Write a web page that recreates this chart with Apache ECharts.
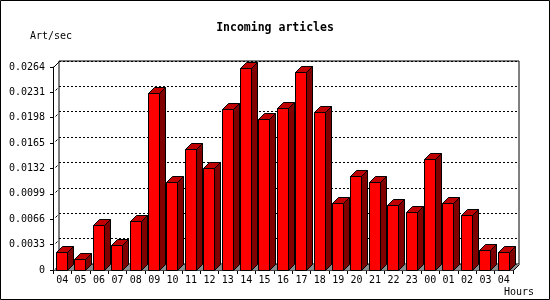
<!DOCTYPE html>
<html>
<head>
<meta charset="utf-8">
<script src="https://cdn.jsdelivr.net/npm/echarts@6/dist/echarts.min.js"></script>
<style>
html,body{margin:0;padding:0;background:#fff;}
#c{width:550px;height:300px;}
</style>
</head>
<body>
<div id="c"></div>
<script>
const hours = ['04','05','06','07','08','09','10','11','12','13','14','15','16','17','18','19','20','21','22','23','00','01','02','03','04'];
const rates = [0.0023,0.0014,0.0058,0.0033,0.0064,0.0230,0.0114,0.0157,0.0133,0.0209,0.0263,0.0197,0.0211,0.0258,0.0206,0.0087,0.0122,0.0114,0.0084,0.0075,0.0145,0.0087,0.0072,0.0026,0.0023];
const yTicks = ['0','0.0033','0.0066','0.0099','0.0132','0.0165','0.0198','0.0231','0.0264'];
const yMax = 0.0264, yStep = 0.0033;

const FONT = 'DejaVu Sans Mono';
const D = 6;      // depth offset
const BW = 11;    // bar front width
const OFF = 3;    // bar offset inside band

const chart = echarts.init(document.getElementById('c'), null, {renderer:'canvas'});

function renderFrame(params, api){
  const band = api.size([1,0])[0];
  const p0 = api.coord([0, 0]);
  const pTop = api.coord([0, yMax]);
  const xl = Math.round(p0[0] - band/2) + 0.5;
  const xr = Math.round(p0[0] - band/2 + band*hours.length) + 0.5;
  const yb = Math.round(p0[1]) + 0.5;
  const yt = Math.round(pTop[1]) + 0.5;
  const children = [];
  children.push({type:'polygon', shape:{points:[[xl,yb],[xr,yb],[xr+D,yb-D],[xl+D,yb-D]]},
    style:{fill:'#8c8c8c', stroke:null}});
  children.push({type:'line', shape:{x1:xr,y1:yb,x2:xr+D,y2:yb-D}, style:{stroke:'#000',lineWidth:1}});
  children.push({type:'line', shape:{x1:xl,y1:yt,x2:xl+D,y2:yt-D}, style:{stroke:'#000',lineWidth:1}});
  for (let k = 0; k < yTicks.length - 1; k++){
    const y = Math.round(api.coord([0, k*yStep])[1]) + 0.5;
    children.push({type:'line', shape:{x1:xl+2,y1:y-2,x2:xl+4,y2:y-4}, style:{stroke:'#000',lineWidth:1}});
  }
  return {type:'group', children};
}

function renderBar(params, api){
  const i = api.value(0), v = api.value(1);
  const band = api.size([1,0])[0];
  const c = api.coord([i, v]);
  const b = api.coord([i, 0]);
  const x0 = Math.round(c[0] - band/2 + OFF) + 0.5;
  const x1 = x0 + BW;
  const yt = Math.round(c[1]) + 0.5;
  const yb = Math.round(b[1]) + 0.5;
  const st = {stroke:'#000', lineWidth:1};
  return {type:'group', children:[
    {type:'polygon', shape:{points:[[x1,yt],[x1+D,yt-D],[x1+D,yb-D],[x1,yb]]}, style:Object.assign({fill:'#800000'}, st)},
    {type:'polygon', shape:{points:[[x0,yt],[x0+D,yt-D],[x1+D,yt-D],[x1,yt]]}, style:Object.assign({fill:'#c00000'}, st)},
    {type:'rect', shape:{x:x0, y:yt, width:BW, height:yb-yt}, style:Object.assign({fill:'#ff0000'}, st)}
  ]};
}

const option = {
  backgroundColor:'#fff',
  animation:false,
  title:{text:'Incoming articles', left:'center', top:22, padding:0,
    textStyle:{fontFamily:FONT, fontSize:11.5, fontWeight:'bold', color:'#000'}},
  graphic:[
    {type:'rect', shape:{x:0.5,y:0.5,width:549,height:299}, style:{fill:null, stroke:'#000', lineWidth:1}, z:100},
    {type:'text', left:30, top:31, style:{text:'Art/sec', fontFamily:FONT, fontSize:10, fill:'#000'}},
    {type:'text', left:504, top:287, style:{text:'Hours', fontFamily:FONT, fontSize:10, fill:'#000'}}
  ],
  grid:[
    {left:53, right:37, top:67, bottom:30, show:false},
    {left:59, right:31, top:61, bottom:36, show:true, borderColor:'#000', borderWidth:1, backgroundColor:'transparent'}
  ],
  xAxis:[
    {type:'category', gridIndex:0, data:hours, boundaryGap:true,
      axisLine:{show:true, lineStyle:{color:'#000', width:1}},
      axisTick:{show:true, length:4, lineStyle:{color:'#000'}, alignWithLabel:false, interval:0},
      axisLabel:{interval:0, margin:5, fontFamily:FONT, fontSize:10, color:'#000'},
      splitLine:{show:false}},
    {type:'value', gridIndex:1, min:0, max:1, show:false}
  ],
  yAxis:[
    {type:'value', gridIndex:0, min:0, max:yMax, interval:yStep,
      axisLine:{show:true, lineStyle:{color:'#000', width:1}},
      axisTick:{show:true, length:3, lineStyle:{color:'#000'}},
      axisLabel:{margin:8, fontFamily:FONT, fontSize:10, color:'#000',
        formatter:(val)=> yTicks[Math.round(val/yStep)]},
      splitLine:{show:false}},
    {type:'value', gridIndex:1, min:0, max:yMax, interval:yStep,
      axisLine:{show:false}, axisTick:{show:false}, axisLabel:{show:false},
      splitLine:{show:true, lineStyle:{color:'#000', type:[2,2], width:1}}}
  ],
  series:[
    {type:'custom', xAxisIndex:0, yAxisIndex:0, z:1, silent:true, renderItem:renderFrame, data:[[0,0]], clip:false},
    {type:'custom', xAxisIndex:0, yAxisIndex:0, z:2, silent:true, renderItem:renderBar,
      data:rates.map((v,i)=>[i,v]), clip:false}
  ]
};
chart.setOption(option);
</script>
</body>
</html>
